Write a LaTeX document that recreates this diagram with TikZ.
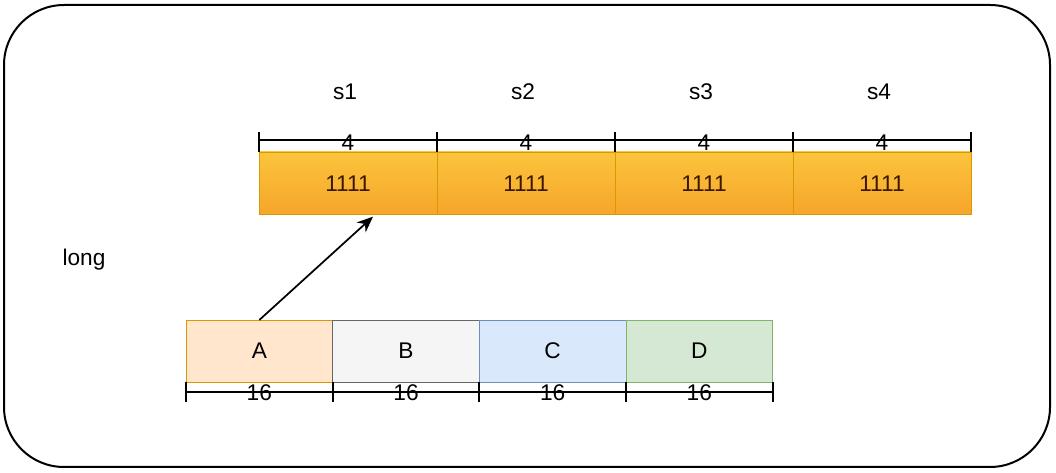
\documentclass[tikz,border=0pt]{standalone}
\usepackage{fontspec}
\setmainfont{Liberation Sans}
\usetikzlibrary{positioning,calc,arrows.meta}
\definecolor{slottop}{HTML}{FBC43C}
\definecolor{slotbot}{HTML}{F6A52A}
\definecolor{slotline}{HTML}{D79B00}
\definecolor{slottext}{HTML}{3A1800}
\definecolor{afill}{HTML}{FFE6CC}
\definecolor{bfill}{HTML}{F5F5F5}
\definecolor{bline}{HTML}{666666}
\definecolor{cfill}{HTML}{DAE8FC}
\definecolor{cline}{HTML}{6C8EBF}
\definecolor{dfill}{HTML}{D5E8D4}
\definecolor{dline}{HTML}{82B366}

\tikzset{
    txt/.style={font=\fontsize{17}{20}\selectfont},
    slot/.style={txt, draw=slotline, top color=slottop, bottom color=slotbot,
        text=slottext, minimum width=133.5pt, minimum height=47pt,
        inner sep=0pt, outer sep=0pt},
    part/.style={txt, draw=#1, minimum width=110pt, minimum height=46.5pt,
        inner sep=0pt, outer sep=0pt},
    dim/.style={line width=1.3pt},
    dimlbl/.style={txt, inner sep=0pt}
}

\begin{document}
\begin{tikzpicture}[x=0.75pt, y=-0.75pt]
    \useasboundingbox (0,0) rectangle (1056,473);
    % frame
    \draw[line width=1.5pt, rounded corners=45pt] (4,5) rectangle (1050,467);

    % the four short slots
    \node[slot, anchor=north west] (s1) at (259,152) {1111};
    \node[slot, right=0pt of s1] (s2) {1111};
    \node[slot, right=0pt of s2] (s3) {1111};
    \node[slot, right=0pt of s3] (s4) {1111};
    \node[txt] (n1) at ($(s1.north)+(-3,-60)$) {s1};
    \node[txt] (n2) at ($(s2.north)+(-3,-60)$) {s2};
    \node[txt] (n3) at ($(s3.north)+(-3,-60)$) {s3};
    \node[txt] (n4) at ($(s4.north)+(-3,-60)$) {s4};

    \draw[dim]
    (s1.north west) ++(0,-12) coordinate (da) -- ($(s4.north east)+(0,-12)$)
    (s1.north west) -- ++(0,-20)
    (s2.north west) -- ++(0,-20)
    (s3.north west) -- ++(0,-20)
    (s4.north west) -- ++(0,-20)
    (s4.north east) -- ++(0,-20);
    \node[dimlbl] at ($(s1.north)+(0,-9)$) {4};
    \node[dimlbl] at ($(s2.north)+(0,-9)$) {4};
    \node[dimlbl] at ($(s3.north)+(0,-9)$) {4};
    \node[dimlbl] at ($(s4.north)+(0,-9)$) {4};

    \node[txt] (long) at (84,260) {long};

    % the long value
    \node[part=slotline, fill=afill, anchor=north west] (a) at (186,320) {A};
    \node[part=bline, fill=bfill, right=0pt of a] (b) {B};
    \node[part=cline, fill=cfill, right=0pt of b] (c) {C};
    \node[part=dline, fill=dfill, right=0pt of c] (d) {D};

    \draw[dim]
    (a.south west) ++(0,10) -- ($(d.south east)+(0,10)$)
    (a.south west) -- ++(0,20)
    (b.south west) -- ++(0,20)
    (c.south west) -- ++(0,20)
    (d.south west) -- ++(0,20)
    (d.south east) -- ++(0,20);
    \node[dimlbl] at ($(a.south)+(0,11)$) {16};
    \node[dimlbl] at ($(b.south)+(0,11)$) {16};
    \node[dimlbl] at ($(c.south)+(0,11)$) {16};
    \node[dimlbl] at ($(d.south)+(0,11)$) {16};

    \coordinate (tip) at ($(s1.south)+(25,2)$);
    \draw[line width=1.3pt, -{Stealth[length=12pt, width=10pt]}] (a.north) -- (tip);
\end{tikzpicture}
\end{document}
